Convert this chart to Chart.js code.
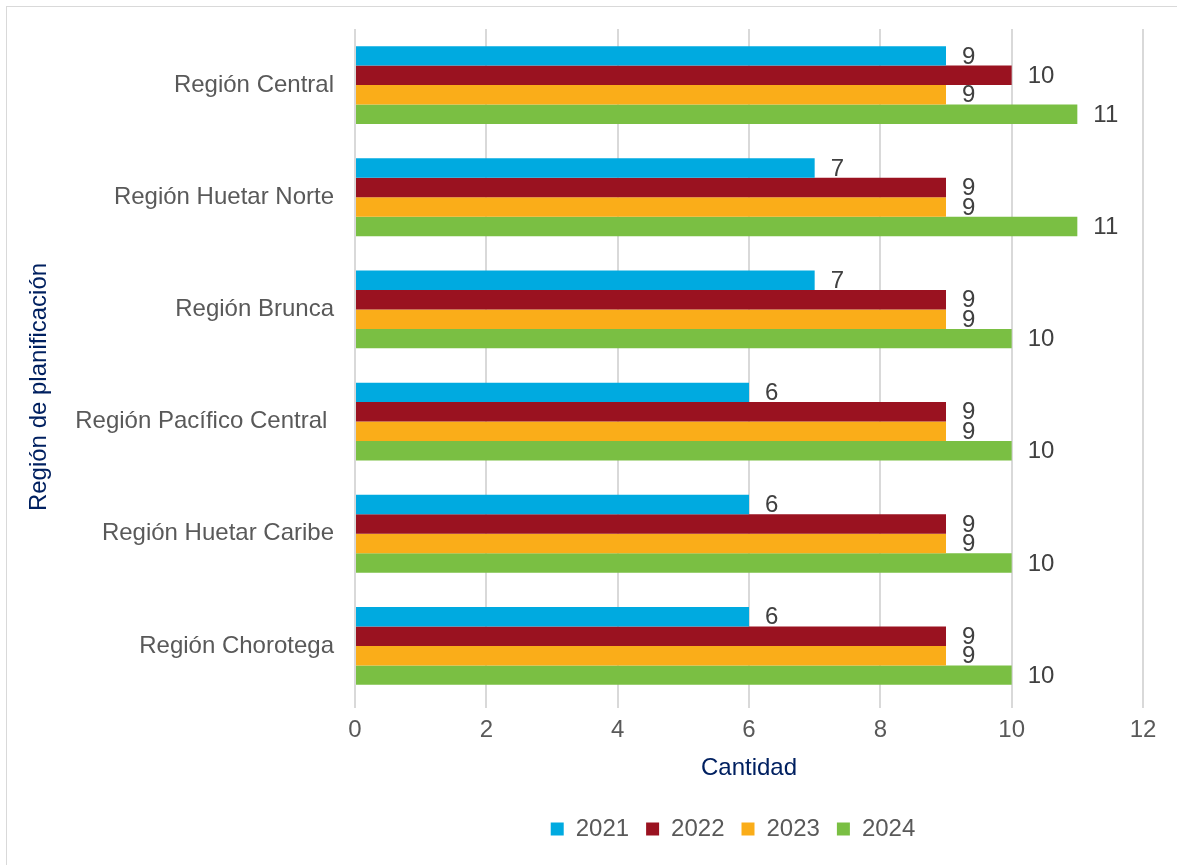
<!DOCTYPE html>
<html>
<head>
<meta charset="utf-8">
<script src="https://cdn.jsdelivr.net/npm/chart.js@4.4.1/dist/chart.umd.min.js"></script>
<style>
    body { margin: 0; background: #fff; }
    #frame { position: absolute; left: 6px; top: 6px; width: 1171px; height: 859px; border: 1px solid #d9d9d9; border-right: none; border-bottom: none; box-sizing: border-box; }
    #chart { position: absolute; left: 1px; top: 1px; }
</style>
</head>
<body>
<div id="frame"><canvas id="chart" width="1170" height="858"></canvas></div>
<script>
// categories and series
const regiones = ['Región Central', 'Región Huetar Norte', 'Región Brunca', 'Región Pacífico Central ', 'Región Huetar Caribe', 'Región Chorotega'];
const anios = ['2021', '2022', '2023', '2024'];
const v2021 = [9, 7, 7, 6, 6, 6];
const v2022 = [10, 9, 9, 9, 9, 9];
const v2023 = [9, 9, 9, 9, 9, 9];
const v2024 = [11, 11, 10, 10, 10, 10];
const xTicks = [0, 2, 4, 6, 8, 10, 12];

const colores = ['#00AAE0', '#9A1220', '#FAAD19', '#7ABF43'];
const series = [v2021, v2022, v2023, v2024];

const FONT = "'Liberation Sans', Arial, sans-serif";
const GREY = '#595959';
const NAVY = '#002060';

// value labels at the end of each bar + y axis title (sits a bit below plot centre)
const extras = {
    id: 'extras',
    afterLayout(chart) {
        // legend is centred a little left of the plot in the original
        chart.legend.left -= 16;
        chart.legend.right -= 16;
    },
    afterDatasetsDraw(chart) {
        const ctx = chart.ctx;
        ctx.save();
        ctx.font = '24px ' + FONT;
        ctx.fillStyle = '#404040';
        ctx.textAlign = 'left';
        ctx.textBaseline = 'middle';
        chart.data.datasets.forEach((ds, i) => {
            chart.getDatasetMeta(i).data.forEach((bar, j) => {
                ctx.fillText(String(ds.data[j]), bar.x + 16, bar.y + 1);
            });
        });
        ctx.translate(31, 379);
        ctx.rotate(-Math.PI / 2);
        ctx.textAlign = 'center';
        ctx.fillStyle = NAVY;
        ctx.fillText('Región de planificación', 0, 0);
        ctx.restore();
    }
};

new Chart(document.getElementById('chart'), {
    type: 'bar',
    data: {
        labels: regiones,
        datasets: anios.map((a, i) => ({
            label: a,
            data: series[i],
            backgroundColor: colores[i],
            borderWidth: 0,
            categoryPercentage: 0.694,
            barPercentage: 1
        }))
    },
    options: {
        indexAxis: 'y',
        responsive: false,
        animation: false,
        layout: { padding: { top: 21, right: 35, bottom: 15, left: 18 } },
        plugins: {
            legend: {
                position: 'bottom',
                fullSize: false,
                labels: {
                    boxWidth: 13, boxHeight: 13, padding: 17,
                    color: GREY, font: { family: FONT, size: 24 }
                }
            },
            tooltip: { enabled: false }
        },
        scales: {
            x: {
                min: 0, max: 12,
                afterBuildTicks: s => { s.ticks = xTicks.map(v => ({ value: v })); },
                grid: { color: '#d9d9d9', lineWidth: 2, tickLength: 6 },
                border: { display: false },
                ticks: { color: GREY, padding: 8, font: { family: FONT, size: 24 } },
                title: { display: true, text: 'Cantidad', color: NAVY, padding: { top: 0, bottom: 17 }, font: { family: FONT, size: 24 } },
                afterFit: s => { s.height = 98; }
            },
            y: {
                grid: { display: false, drawTicks: false, tickLength: 0 },
                border: { display: false },
                ticks: { color: GREY, padding: 21, font: { family: FONT, size: 24 } },
                afterFit: s => { s.width = 329; s.paddingTop = 0; s.paddingBottom = 0; }
            }
        }
    },
    plugins: [extras]
});
</script>
</body>
</html>
